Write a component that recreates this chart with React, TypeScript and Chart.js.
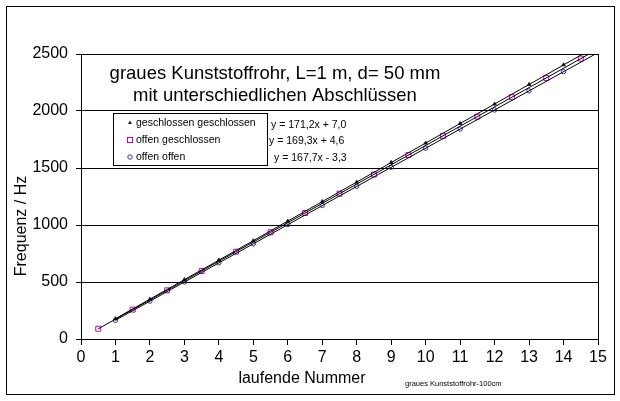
import { useEffect, useRef } from "react";
import { Chart, registerables } from "chart.js";

Chart.register(...registerables);

// laufende Nummer
const nrGanz = [1, 2, 3, 4, 5, 6, 7, 8, 9, 10, 11, 12, 13, 14];
const nrHalb = [0.5, 1.5, 2.5, 3.5, 4.5, 5.5, 6.5, 7.5, 8.5, 9.5, 10.5, 11.5, 12.5, 13.5, 14.5];

// Frequenzen in Hz
const geschlGeschl = [178, 349, 521, 693, 862, 1034, 1206, 1376, 1549, 1719, 1891, 2061, 2233, 2405];
const offenGeschl = [90, 258, 427, 597, 766, 936, 1105, 1275, 1443, 1613, 1782, 1951, 2121, 2290, 2460];
const offenOffen = [164, 332, 500, 668, 835, 1003, 1171, 1339, 1506, 1674, 1842, 2009, 2177, 2345];

// Trendlinien (Steigung, Achsenabschnitt) wie im Diagramm angegeben
const steigung = [171.2, 169.3, 167.7];
const abschnitt = [7.0, 4.6, -3.3];
const trendStart = [1, 0.5, 1];
const trendEnde = 15;

const serienNamen = ["geschlossen geschlossen", "offen geschlossen", "offen offen"];
const gleichungen = ["y = 171,2x + 7,0", "y = 169,3x + 4,6", "y = 167,7x - 3,3"];

const FONT = "'Liberation Sans', Arial, sans-serif";

const pts = (xs: number[], ys: number[]) => xs.map((x, i) => ({ x, y: ys[i] }));
const trend = (i: number) => [
  { x: trendStart[i], y: steigung[i] * trendStart[i] + abschnitt[i] },
  { x: trendEnde, y: steigung[i] * trendEnde + abschnitt[i] },
];

const beschriftung = {
  id: "beschriftung",
  afterDraw(chart: any) {
    const ctx = chart.ctx as CanvasRenderingContext2D;
    const a = chart.chartArea;
    ctx.save();
    ctx.strokeStyle = "#000";
    ctx.lineWidth = 1;
    // Rahmen
    ctx.strokeRect(6.5, 6.5, 608, 388);
    ctx.strokeRect(Math.round(a.left) + 0.5, Math.round(a.top) + 0.5, Math.round(a.right - a.left), Math.round(a.bottom - a.top));

    ctx.fillStyle = "#000";
    ctx.textAlign = "center";
    ctx.textBaseline = "middle";
    ctx.font = `18.5px ${FONT}`;
    ctx.fillText("graues Kunststoffrohr, L=1 m, d= 50 mm", 275, 74);
    ctx.fillText("mit unterschiedlichen Abschlüssen", 275, 96);

    ctx.font = `16px ${FONT}`;
    ctx.fillText("laufende Nummer", 302, 379);
    ctx.save();
    ctx.translate(22, 226);
    ctx.rotate(-Math.PI / 2);
    ctx.fillText("Frequenz / Hz", 0, 0);
    ctx.restore();

    ctx.textAlign = "left";
    ctx.font = `7.5px ${FONT}`;
    ctx.fillText("graues Kunststoffrohr-100cm", 405, 384);

    // Legende
    ctx.fillStyle = "#fff";
    ctx.fillRect(113, 113, 154, 52);
    ctx.strokeRect(113.5, 113.5, 154, 52);
    const ys = [123, 140, 157];
    ctx.font = `10.5px ${FONT}`;
    ctx.fillStyle = "#000";
    ctx.fillText(serienNamen[0], 136, ys[0]);
    ctx.fillText(serienNamen[1], 136, ys[1]);
    ctx.fillText(serienNamen[2], 136, ys[2]);
    // Marker
    ctx.fillStyle = "#222";
    ctx.beginPath();
    ctx.moveTo(130, ys[0] - 2.5);
    ctx.lineTo(132, ys[0] + 1);
    ctx.lineTo(128, ys[0] + 1);
    ctx.closePath();
    ctx.fill();
    ctx.strokeStyle = "#c000c0";
    ctx.strokeRect(127.5, ys[1] - 2.5, 5, 5);
    ctx.strokeStyle = "#333399";
    ctx.beginPath();
    ctx.arc(130, ys[2], 2.2, 0, Math.PI * 2);
    ctx.stroke();

    ctx.fillStyle = "#000";
    ctx.fillText(gleichungen[0], 271, 125);
    ctx.fillText(gleichungen[1], 269, 141);
    ctx.fillText(gleichungen[2], 274, 158);
    ctx.restore();
  },
};

const App = () => {
  const chartRef = useRef<HTMLCanvasElement | null>(null);
  const chartInstance = useRef<Chart | null>(null);

  useEffect(() => {
    document.body.style.margin = "0";
    if (chartInstance.current) {
      chartInstance.current.destroy();
    }
    const ctx: any = chartRef.current?.getContext("2d");
    const trendDs = (i: number) => ({
      type: "line" as const,
      data: trend(i),
      borderColor: "#000",
      borderWidth: 1,
      pointRadius: 0,
      showLine: true,
      fill: false,
    });

    chartInstance.current = new Chart(ctx, {
      type: "scatter",
      data: {
        datasets: [
          trendDs(0),
          trendDs(1),
          trendDs(2),
          {
            label: serienNamen[0],
            data: pts(nrGanz, geschlGeschl),
            pointStyle: "triangle",
            pointRadius: 2,
            backgroundColor: "#222",
            borderColor: "#222",
            borderWidth: 1,
          },
          {
            label: serienNamen[1],
            data: pts(nrHalb, offenGeschl),
            pointStyle: "rect",
            pointRadius: 3.5,
            backgroundColor: "rgba(255,255,255,0)",
            borderColor: "#c000c0",
            borderWidth: 1,
          },
          {
            label: serienNamen[2],
            data: pts(nrGanz, offenOffen),
            pointStyle: "circle",
            pointRadius: 2.2,
            backgroundColor: "rgba(255,255,255,0)",
            borderColor: "#333399",
            borderWidth: 1,
          },
        ] as any,
      },
      options: {
        animation: false,
        responsive: true,
        maintainAspectRatio: false,
        layout: { padding: { left: 0, right: 22, top: 54, bottom: 0 } },
        plugins: { legend: { display: false }, tooltip: { enabled: false } },
        scales: {
          x: {
            type: "linear",
            min: 0,
            max: 15,
            afterFit: (s: any) => {
              s.height = 62;
            },
            ticks: {
              stepSize: 1,
              autoSkip: false,
              maxRotation: 0,
              padding: 3,
              color: "#000",
              font: { family: FONT, size: 16 },
              callback: (v: any) => String(v),
            },
            grid: { drawOnChartArea: false, drawTicks: true, tickLength: 6, color: "#000" },
            border: { color: "#000" },
          },
          y: {
            type: "linear",
            min: 0,
            max: 2500,
            afterFit: (s: any) => {
              s.width = 81;
            },
            ticks: {
              stepSize: 500,
              padding: 8,
              color: "#000",
              font: { family: FONT, size: 16 },
              callback: (v: any) => String(v),
            },
            grid: { color: "#000", tickLength: 5, lineWidth: 1 },
            border: { color: "#000" },
          },
        },
      },
      plugins: [beschriftung],
    });

    return () => {
      if (chartInstance.current) {
        chartInstance.current.destroy();
        chartInstance.current = null;
      }
    };
  }, []);

  return (
    <div style={{ position: "absolute", left: 0, top: 0, width: "620px", height: "401px", background: "#fff" }}>
      <canvas ref={chartRef}></canvas>
    </div>
  );
};

export default App;
